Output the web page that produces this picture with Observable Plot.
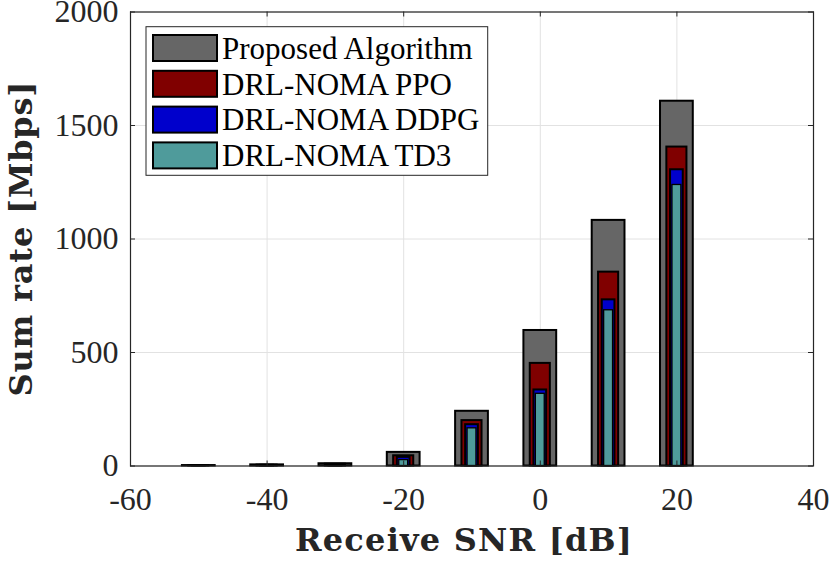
<!DOCTYPE html>
<html><head><meta charset="utf-8">
<script src="https://cdn.jsdelivr.net/npm/d3@7"></script>
<script src="https://cdn.jsdelivr.net/npm/@observablehq/plot@0.6"></script>
<style>body{margin:0;background:#fff}#chart{width:830px;height:564px}</style>
</head><body><div id="chart"></div>
<script>
// ---- data ----
const snr = [-50, -40, -30, -20, -10, 0, 10, 20];
const proposed = [2, 5, 10, 60, 241, 597, 1082, 1607];
const ppo = [1.5, 4, 8, 45, 200, 452, 854, 1405];
const ddpg = [1, 3, 6, 38, 182, 335, 732, 1305];
const td3 = [0.8, 2, 4, 26, 166, 318, 686, 1238];
const seriesNames = ["Proposed Algorithm", "DRL-NOMA PPO", "DRL-NOMA DDPG", "DRL-NOMA TD3"];
const seriesColors = ["#666666", "#800000", "#0000cc", "#4f9b9b"];
const xTicks = [-60, -40, -20, 0, 20, 40];
const yTicks = [0, 500, 1000, 1500, 2000];
const xLabel = "Receive SNR [dB]";
const yLabel = "Sum rate [Mbps]";

// ---- layout ----
const W = 830, H = 564;
const mL = 130, mR = 17, mT = 11.5, mB = 98.5;
const frameW = W - mL - mR, frameH = H - mT - mB;
const xDom = [-60, 40], yDom = [0, 2000];
const tickPx = 5;
const tLenY = (yDom[1] - yDom[0]) * tickPx / frameH;
const tLenX = (xDom[1] - xDom[0]) * tickPx / frameW;
const axisColor = "#262626";
const serif = "'Liberation Serif', 'Times New Roman', serif";

const seriesVals = [proposed, ppo, ddpg, td3];
const halfWidths = [2.4, 1.47, 0.93, 0.65];
const strokeWidths = [2, 2, 2, 1.3];

const barMarks = seriesVals.map((vals, s) =>
  Plot.rect(snr.map((x, i) => ({x, v: vals[i]})), {
    x1: d => d.x - halfWidths[s],
    x2: d => d.x + halfWidths[s],
    y1: 0,
    y2: d => d.v,
    fill: seriesColors[s],
    stroke: "#000",
    strokeWidth: strokeWidths[s]
  })
);

const plot = Plot.plot({
  width: W, height: H,
  marginLeft: mL, marginRight: mR, marginTop: mT, marginBottom: mB,
  style: {background: "#fff", fontFamily: serif, color: axisColor},
  x: {domain: xDom, ticks: xTicks},
  y: {domain: yDom, ticks: yTicks},
  marks: [
    Plot.ruleX(xTicks, {x: d => d, stroke: "#e2e2e2", strokeWidth: 1}),
    Plot.ruleY(yTicks, {y: d => d, stroke: "#e2e2e2", strokeWidth: 1}),
    ...barMarks,
    // inward ticks
    Plot.ruleX(xTicks, {x: d => d, y1: yDom[0], y2: yDom[0] + tLenY, stroke: axisColor}),
    Plot.ruleX(xTicks, {x: d => d, y1: yDom[1], y2: yDom[1] - tLenY, stroke: axisColor}),
    Plot.ruleY(yTicks, {y: d => d, x1: xDom[0], x2: xDom[0] + tLenX, stroke: axisColor}),
    Plot.ruleY(yTicks, {y: d => d, x1: xDom[1], x2: xDom[1] - tLenX, stroke: axisColor}),
    Plot.frame({stroke: axisColor, strokeWidth: 1.2}),
    Plot.axisX(xTicks, {anchor: "bottom", tickSize: 0, tickPadding: 21.3, fontSize: 32,
      fontFamily: serif, fill: axisColor, tickFormat: d => String(d), label: null}),
    Plot.axisY(yTicks, {anchor: "left", tickSize: 0, tickPadding: 12, fontSize: 32,
      fontFamily: serif, fill: axisColor, tickFormat: d => String(d), label: null})
  ]
});

document.getElementById("chart").appendChild(plot);
const svg = d3.select(plot);
svg.selectAll('g[aria-label$="tick label"] text').attr("font-family", serif);

// axis labels
const labelFont = "'DejaVu Serif', serif";
svg.append("text")
  .attr("x", 463.5).attr("y", 551)
  .attr("text-anchor", "middle")
  .attr("font-family", labelFont).attr("font-weight", "bold").attr("font-size", 32)
  .attr("fill", axisColor)
  .attr("textLength", 337).attr("lengthAdjust", "spacing")
  .text(xLabel);
svg.append("text")
  .attr("transform", "translate(32,239) rotate(-90)")
  .attr("text-anchor", "middle")
  .attr("font-family", labelFont).attr("font-weight", "bold").attr("font-size", 32)
  .attr("fill", axisColor)
  .attr("textLength", 315).attr("lengthAdjust", "spacing")
  .text(yLabel);

// legend
const lg = svg.append("g").attr("text-anchor", "start");
lg.append("rect").attr("x", 146).attr("y", 26.7).attr("width", 341.7).attr("height", 148.6)
  .attr("fill", "#fff").attr("stroke", "#262626").attr("stroke-width", 1);
seriesNames.forEach((name, i) => {
  const top = 34 + i * 35.8;
  lg.append("rect").attr("x", 153).attr("y", top + 1).attr("width", 64).attr("height", 26)
    .attr("fill", seriesColors[i]).attr("stroke", "#000").attr("stroke-width", 2);
  lg.append("text").attr("x", 222).attr("y", top + 24.8)
    .attr("text-anchor", "start")
    .attr("font-family", serif).attr("font-size", 31).attr("fill", "#000")
    .text(name);
});
</script>
</body></html>
